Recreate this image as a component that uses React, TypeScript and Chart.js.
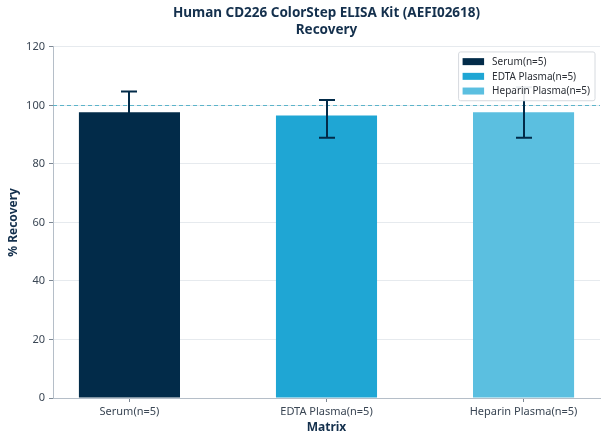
import React, { useEffect, useRef } from "react";
import { Chart, registerables } from "chart.js";

Chart.register(...registerables);

const titleLines = ["Human CD226 ColorStep ELISA Kit (AEFI02618)", "Recovery"];
const categories = ["Serum(n=5)", "EDTA Plasma(n=5)", "Heparin Plasma(n=5)"];
const recovery = [97.7, 96.6, 97.7];
const errLower = [90.6, 89.0, 89.0];
const errUpper = [104.8, 101.9, 106.2];
const barColors = ["#022b49", "#1fa6d4", "#5bbfe0"];
const yMin = 0;
const yMax = 120;
const yStep = 20;
const referenceLine = 100;
const xAxisTitle = "Matrix";
const yAxisTitle = "% Recovery";

const FONT = "'Noto Sans', 'DejaVu Sans', sans-serif";
const NAVY = "#14304d";
const TICK_TEXT = "#3a4654";
const SPINE = "#b5bec8";
const ERR_COLOR = "#022b49";

const refLinePlugin = {
  id: "refLine",
  beforeDatasetsDraw(chart: any) {
    const { ctx, chartArea, scales } = chart;
    const py = Math.round(scales.y.getPixelForValue(referenceLine)) + 0.5;
    ctx.save();
    ctx.strokeStyle = "#5cb4ca";
    ctx.lineWidth = 1;
    ctx.setLineDash([4, 3]);
    ctx.beginPath();
    ctx.moveTo(chartArea.left, py);
    ctx.lineTo(chartArea.right, py);
    ctx.stroke();
    ctx.restore();
  },
};

const errorBarPlugin = {
  id: "errorBars",
  afterDatasetsDraw(chart: any) {
    const { ctx, scales } = chart;
    ctx.save();
    ctx.strokeStyle = ERR_COLOR;
    ctx.lineWidth = 2;
    ctx.lineCap = "butt";
    categories.forEach((_, i) => {
      const px = Math.round(scales.x.getPixelForValue(i));
      const top = scales.y.getPixelForValue(errUpper[i]);
      const bot = scales.y.getPixelForValue(errLower[i]);
      ctx.beginPath();
      ctx.moveTo(px, top);
      ctx.lineTo(px, bot);
      ctx.moveTo(px - 8, top);
      ctx.lineTo(px + 8, top);
      ctx.moveTo(px - 8, bot);
      ctx.lineTo(px + 8, bot);
      ctx.stroke();
    });
    ctx.restore();
  },
};

const boxLegendPlugin = {
  id: "boxLegend",
  afterDraw(chart: any) {
    const { ctx, chartArea } = chart;
    const datasets = chart.data.datasets;
    ctx.save();
    ctx.font = `10px ${FONT}`;
    const maxW = Math.max(...datasets.map((d: any) => ctx.measureText(d.label).width));
    const rowH = 14.7;
    const padV = 9.7;
    const swW = 21.5;
    const swH = 7;
    const boxW = 4 + swW + 8 + maxW + 5;
    const boxH = padV * 2 + rowH * (datasets.length - 1);
    const right = chartArea.right - 5;
    const top = chartArea.top + 5;
    const left = right - boxW;
    ctx.fillStyle = "rgba(255,255,255,0.92)";
    ctx.strokeStyle = "#d6dadf";
    ctx.lineWidth = 1;
    ctx.beginPath();
    const r = 2;
    ctx.moveTo(left + r, top);
    ctx.lineTo(right - r, top);
    ctx.arcTo(right, top, right, top + r, r);
    ctx.lineTo(right, top + boxH - r);
    ctx.arcTo(right, top + boxH, right - r, top + boxH, r);
    ctx.lineTo(left + r, top + boxH);
    ctx.arcTo(left, top + boxH, left, top + boxH - r, r);
    ctx.lineTo(left, top + r);
    ctx.arcTo(left, top, left + r, top, r);
    ctx.closePath();
    ctx.fill();
    ctx.stroke();
    ctx.textBaseline = "middle";
    ctx.textAlign = "left";
    datasets.forEach((d: any, i: number) => {
      const cy = top + padV + i * rowH;
      ctx.fillStyle = d.backgroundColor;
      ctx.fillRect(left + 4, cy - swH / 2, swW, swH);
      ctx.fillStyle = "#2b2f36";
      ctx.fillText(d.label, left + 4 + swW + 8, cy + 0.5);
    });
    ctx.restore();
  },
};

export default function App() {
  const canvasRef = useRef<HTMLCanvasElement | null>(null);

  useEffect(() => {
    if (!canvasRef.current) return;
    const chart = new Chart(canvasRef.current, {
      type: "bar",
      data: {
        datasets: categories.map((label, i) => ({
          label,
          data: [{ x: i, y: recovery[i] }],
          backgroundColor: barColors[i],
          borderWidth: 0,
          grouped: false,
          categoryPercentage: 1,
          barPercentage: 0.513,
        })),
      },
      options: {
        animation: false,
        responsive: false,
        layout: { padding: { left: 0, right: 8, top: 0, bottom: 0 } },
        plugins: {
          legend: { display: false },
          tooltip: { enabled: false },
          title: {
            display: true,
            fullSize: false,
            text: titleLines,
            color: NAVY,
            font: { family: FONT, size: 13.5, weight: "bold", lineHeight: 1.22 },
            padding: { top: 5, bottom: 9 },
          },
        },
        scales: {
          x: {
            type: "linear",
            min: -0.388,
            max: categories.length - 1 + 0.388,
            offset: false,
            afterBuildTicks: (scale: any) => {
              scale.ticks = categories.map((_, i) => ({ value: i }));
            },
            afterFit: (scale: any) => {
              scale.height = 46;
            },
            ticks: {
              autoSkip: false,
              maxRotation: 0,
              padding: 3,
              color: TICK_TEXT,
              font: { family: FONT, size: 11 },
              callback: (v: any) => categories[v] ?? "",
            },
            grid: {
              offset: false,
              drawOnChartArea: false,
              drawTicks: true,
              tickLength: 4,
              tickColor: "#7d8894",
            },
            border: { color: SPINE, width: 1 },
            title: {
              display: true,
              text: xAxisTitle,
              color: NAVY,
              font: { family: FONT, size: 12, weight: "bold" },
              padding: { top: 2, bottom: 9 },
            },
          },
          y: {
            min: yMin,
            max: yMax,
            afterFit: (scale: any) => {
              scale.width = 53;
            },
            ticks: {
              stepSize: yStep,
              padding: 4,
              color: TICK_TEXT,
              font: { family: FONT, size: 11 },
            },
            grid: {
              color: "#e6eaee",
              lineWidth: 1,
              drawTicks: true,
              tickLength: 4,
              tickColor: "#7d8894",
            },
            border: { color: SPINE, width: 1 },
            title: {
              display: true,
              text: yAxisTitle,
              color: NAVY,
              font: { family: FONT, size: 12, weight: "bold" },
              padding: { top: 6, bottom: 0 },
            },
          },
        },
      },
      plugins: [refLinePlugin, errorBarPlugin, boxLegendPlugin],
    } as any);
    return () => chart.destroy();
  }, []);

  return (
    <div style={{ position: "fixed", left: 0, top: 0, width: 608, height: 444, background: "#fff" }}>
      <canvas ref={canvasRef} width={608} height={444} style={{ width: 608, height: 444, display: "block" }} />
    </div>
  );
}
